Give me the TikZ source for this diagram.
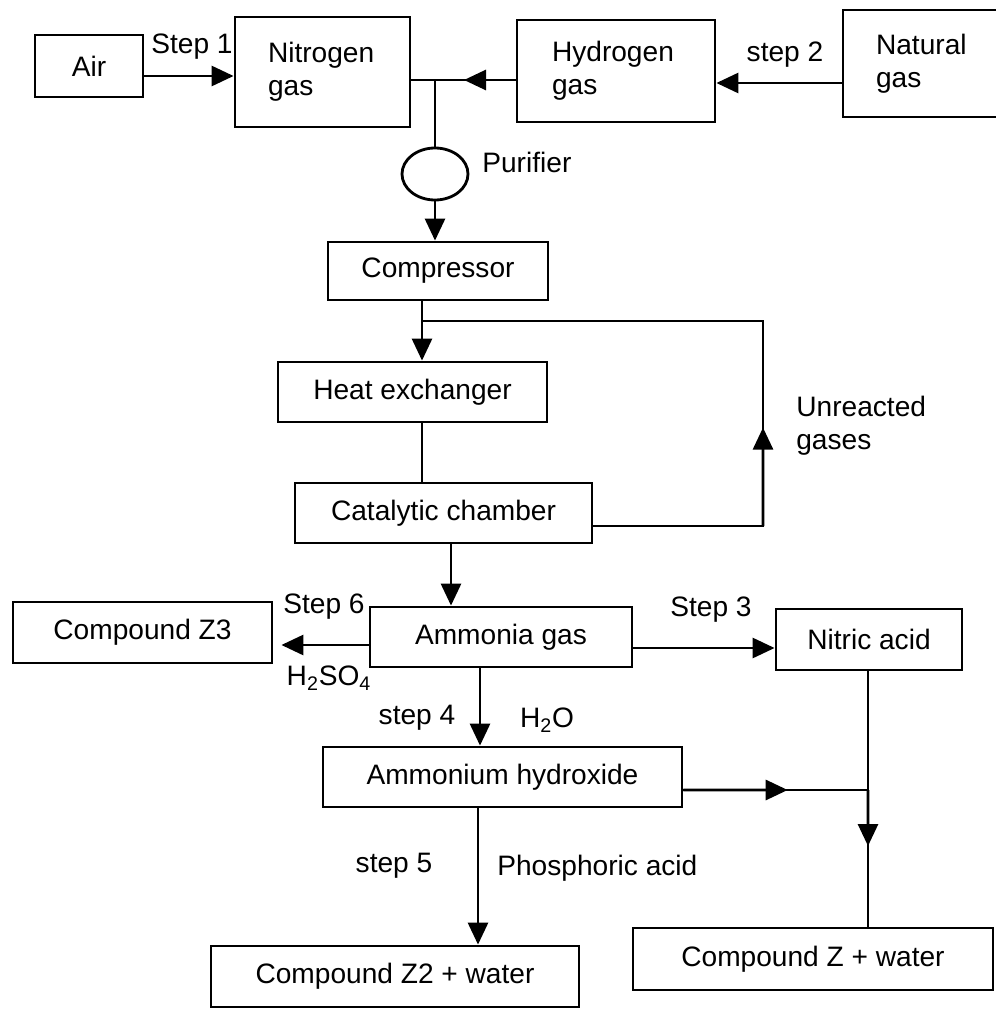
\documentclass[tikz,border=0pt]{standalone}
\usepackage{fontspec}
\setmainfont{Liberation Sans}
\usepackage{tikz}
\usetikzlibrary{
  arrows.meta,
  positioning,
  calc,
  shapes.geometric
}

\tikzset{
  flowbox/.style={draw, line width=1.6pt, inner sep=0pt, font=\fontsize{16}{19}\selectfont},
  boxsize/.style 2 args={minimum width=#1*0.02cm, minimum height=#2*0.02cm},
  flow/.style={line width=1.6pt},
  flowarrow/.style={flow, -{Triangle[length=0.44cm,width=0.4cm]}},
  steplabel/.style={font=\fontsize{16}{19}\selectfont, inner sep=0pt}
}

\begin{document}
\begin{tikzpicture}[x=0.02cm, y=-0.02cm]
  \useasboundingbox (0,0) rectangle (995,1010);
  % raw gases
  \node[flowbox, boxsize={108}{62}] (air) at (89,66) {Air};
  \node[flowbox, boxsize={175}{110}, text width=2.18cm, align=left] (nitrogen) at (322.5,72) {Nitrogen\\gas};
  \node[flowbox, boxsize={198}{102}, text width=2.56cm, align=left] (hydrogen) at (616,71) {Hydrogen\\gas};
  \node[flowbox, boxsize={162}{107}, text width=1.92cm, align=left] (natural) at (924,63.5) {Natural\\gas};
  \node[draw, ellipse, line width=1.6pt, inner sep=0pt, boxsize={66}{52}] (purifier) at (435,174) {};
  % plant
  \node[flowbox, boxsize={220}{58}] (compressor) at (438,271) {Compressor};
  \node[flowbox, boxsize={269}{60}] (heatex) at (412.5,392) {Heat exchanger};
  \node[flowbox, boxsize={297}{60}] (catalytic) at (443.5,513) {Catalytic chamber};
  % products
  \node[flowbox, boxsize={262}{60}] (ammonia) at (501,637) {Ammonia gas};
  \node[flowbox, boxsize={259}{61}] (zthree) at (142.5,632.5) {Compound Z3};
  \node[flowbox, boxsize={186}{61}] (nitric) at (869,639.5) {Nitric acid};
  \node[flowbox, boxsize={359}{60}] (hydroxide) at (502.5,777) {Ammonium hydroxide};
  \node[flowbox, boxsize={368}{61}] (ztwo) at (395,976.5) {Compound Z2 + water};
  \node[flowbox, boxsize={360}{62}] (zone) at (813,959) {Compound Z + water};
  % junctions
  \coordinate (split) at (435,80);
  \coordinate (loop) at (422,321);
  \coordinate (ret) at (763,321);
  \coordinate (retlow) at (763,526);
  \coordinate (mix) at (868,790);
  % feed lines
  \draw[flowarrow] (air.east |- 0,76) -- (nitrogen.west |- 0,76);
  \draw[flowarrow] (natural.west |- 0,83) -- (hydrogen.east |- 0,83);
  \draw[flow] (hydrogen.west |- split) -- (nitrogen.east |- split);
  \draw[flowarrow] (hydrogen.west |- split) -- ($(split)+(29,0)$);
  \draw[flow] (split) -- (purifier.north);
  \draw[flowarrow] (purifier.south) -- (purifier.south |- compressor.north);
  % recycle loop
  \draw[flow] (compressor.south -| loop) -- (loop);
  \draw[flowarrow] (loop) -- (heatex.north -| loop);
  \draw[flow] (loop) -- (ret) -- (retlow) -- (catalytic.east |- retlow);
  \draw[flowarrow] (retlow) -- ($(retlow)!0.48!(ret)$);
  \draw[flow] (heatex.south -| loop) -- (catalytic.north -| loop);
  % ammonia and its uses
  \draw[flowarrow] (catalytic.south -| 451,0) -- (ammonia.north -| 451,0);
  \draw[flowarrow, shorten >=0.16cm] (ammonia.west |- 0,645) -- (zthree.east |- 0,645);
  \draw[flowarrow] (ammonia.east |- 0,648) -- (nitric.west |- 0,648);
  \draw[flowarrow] (ammonia.south -| 480,0) -- (hydroxide.north -| 480,0);
  \draw[flowarrow] (hydroxide.south -| 478,0) -- (ztwo.north -| 478,0);
  \draw[flow] (hydroxide.east |- mix) -- (mix);
  \draw[flowarrow] (hydroxide.east |- mix) -- ($(hydroxide.east |- mix)!0.565!(mix)$);
  \draw[flow] (nitric.south -| mix) -- (zone.north -| mix);
  \draw[flowarrow] (mix) -- ($(mix)!0.41!(zone.north -| mix)$);
  % labels
  \node[steplabel] (s1) at (192,47) {Step 1};
  \node[steplabel] (s2) at (785,55) {step 2};
  \node[steplabel, anchor=west] (purlabel) at (482,162) {Purifier};
  \node[steplabel, anchor=west, align=left] (unreacted) at (796,426) {Unreacted\\gases};
  \node[steplabel] (s6) at (324,607) {Step 6};
  \node[steplabel] (acid1) at (329,678) {H\textsubscript{2}SO\textsubscript{4}};
  \node[steplabel] (s3) at (711,610) {Step 3};
  \node[steplabel] (s4) at (417,718) {step 4};
  \node[steplabel] (water) at (547,720) {H\textsubscript{2}O};
  \node[steplabel] (s5) at (394,866) {step 5};
  \node[steplabel, anchor=west] (acid2) at (497,868) {Phosphoric acid};
\end{tikzpicture}
\end{document}
